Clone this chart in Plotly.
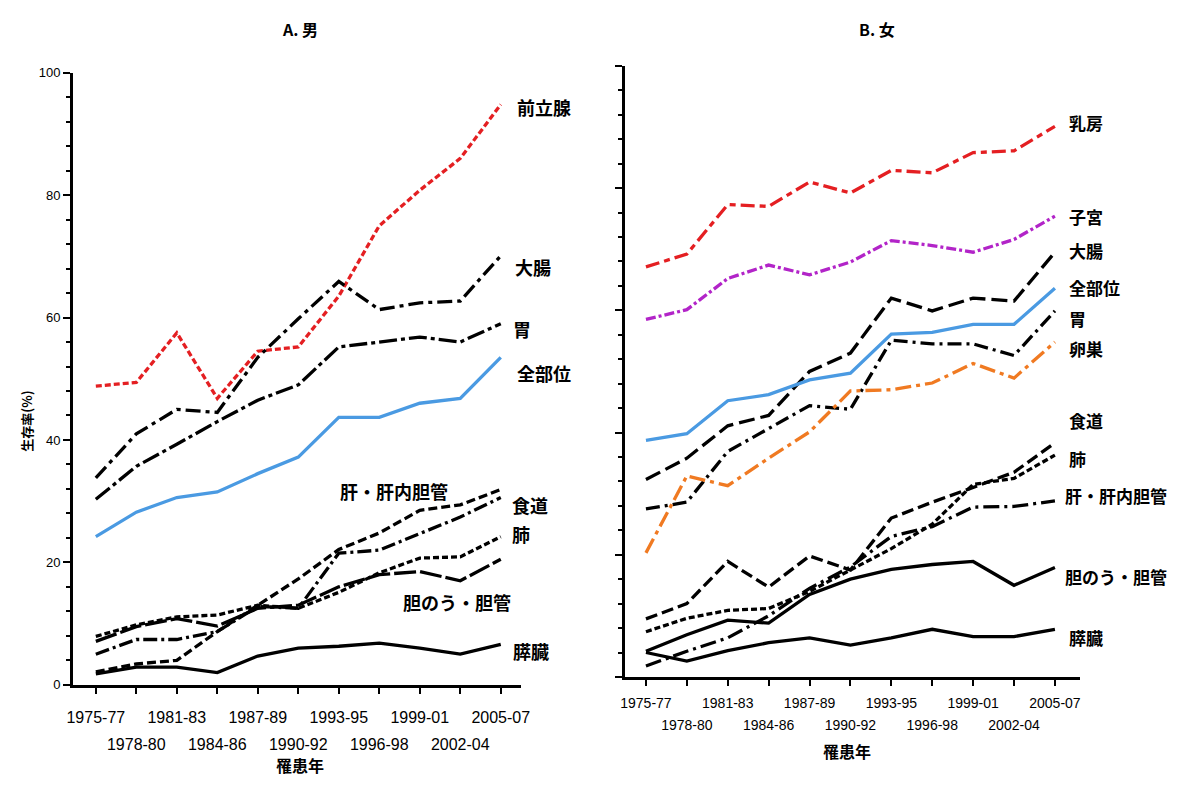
import plotly.graph_objects as go

# ---------------- data ----------------
cats = ["1975-77", "1978-80", "1981-83", "1984-86", "1987-89", "1990-92",
        "1993-95", "1996-98", "1999-01", "2002-04", "2005-07"]

# A. 男 (male)
m_prostate = [48.8, 49.4, 57.5, 46.8, 54.5, 55.2, 63.5, 75.0, 80.8, 86.0, 94.8]
m_colon    = [33.8, 41.0, 45.0, 44.5, 53.5, 59.8, 65.9, 61.3, 62.4, 62.7, 70.1]
m_stomach  = [30.3, 35.7, 39.3, 43.0, 46.5, 49.0, 55.2, 56.0, 56.8, 56.0, 59.0]
m_all      = [24.2, 28.2, 30.6, 31.5, 34.5, 37.2, 43.7, 43.7, 46.0, 46.8, 53.5]
m_liver    = [2.1, 3.4, 4.0, 8.7, 13.0, 17.3, 22.1, 24.8, 28.5, 29.4, 31.9]
m_esoph    = [5.0, 7.4, 7.4, 8.7, 12.8, 12.5, 21.5, 22.0, 24.7, 27.4, 30.6]
m_lung     = [7.9, 9.8, 11.1, 11.4, 13.0, 12.5, 15.1, 18.3, 20.7, 20.9, 24.2]
m_gall     = [7.1, 9.5, 10.8, 9.6, 12.5, 13.0, 16.0, 18.0, 18.5, 17.0, 20.5]
m_panc     = [1.8, 2.9, 2.9, 2.0, 4.7, 6.0, 6.3, 6.8, 6.0, 5.0, 6.6]

# B. 女 (female)
f_breast   = [67.1, 69.2, 77.3, 77.0, 81.0, 79.2, 82.9, 82.5, 85.8, 86.1, 90.1]
f_uterus   = [58.5, 60.1, 65.2, 67.4, 65.8, 67.9, 71.4, 70.6, 69.5, 71.6, 75.4]
f_colon    = [32.3, 35.8, 41.1, 42.8, 50.0, 53.0, 62.0, 59.9, 62.0, 61.5, 69.5]
f_all      = [38.7, 39.8, 45.2, 46.2, 48.6, 49.7, 56.1, 56.4, 57.7, 57.7, 63.6]
f_stomach  = [27.5, 28.6, 36.9, 40.6, 44.4, 43.8, 55.1, 54.5, 54.5, 52.6, 59.9]
f_ovary    = [20.3, 32.9, 31.3, 35.8, 40.1, 46.8, 47.0, 48.1, 51.3, 48.9, 54.8]
f_esoph    = [9.5, 12.0, 18.9, 14.7, 19.8, 17.5, 26.0, 28.6, 31.0, 33.5, 38.3]
f_lung     = [7.4, 9.6, 10.9, 11.2, 14.0, 17.5, 21.0, 25.0, 31.5, 32.5, 36.3]
f_liver    = [1.8, 4.2, 6.4, 10.0, 14.5, 18.0, 23.0, 24.6, 27.8, 27.9, 28.8]
f_gall     = [4.2, 6.9, 9.3, 8.8, 13.5, 16.0, 17.6, 18.4, 18.9, 15.0, 17.9]
f_panc     = [4.0, 2.6, 4.3, 5.6, 6.4, 5.2, 6.4, 7.8, 6.6, 6.6, 7.8]

yticks = [0, 20, 40, 60, 80, 100]

# ---------------- styles ----------------
RED = "#e41f22"
BLUE = "#4a9ae2"
PURPLE = "#b224c8"
ORANGE = "#f07a22"
BLACK = "#000000"

male_series = [
    (m_prostate, RED, "6px,3px"),
    (m_colon, BLACK, "15px,5px,4px,5px"),
    (m_stomach, BLACK, "18px,4px,4px,4px"),
    (m_all, BLUE, "solid"),
    (m_liver, BLACK, "9px,4px"),
    (m_esoph, BLACK, "14px,4px,3px,4px"),
    (m_lung, BLACK, "6px,3px"),
    (m_gall, BLACK, "22px,4px"),
    (m_panc, BLACK, "solid"),
]
female_series = [
    (f_breast, RED, "14px,5px,6px,5px"),
    (f_uterus, PURPLE, "10px,3px,3px,3px"),
    (f_colon, BLACK, "16px,6px"),
    (f_all, BLUE, "solid"),
    (f_stomach, BLACK, "14px,5px,3px,5px"),
    (f_ovary, ORANGE, "16px,5px,4px,5px"),
    (f_esoph, BLACK, "12px,5px"),
    (f_lung, BLACK, "6px,3px"),
    (f_liver, BLACK, "16px,5px,3px,5px"),
    (f_gall, BLACK, "solid"),
    (f_panc, BLACK, "solid"),
]

fig = go.Figure()
for vals, col, dash in male_series:
    fig.add_trace(go.Scatter(x=cats, y=vals, mode="lines", xaxis="x", yaxis="y",
                             line=dict(color=col, width=3.3, dash=dash),
                             showlegend=False, hoverinfo="skip"))
for vals, col, dash in female_series:
    fig.add_trace(go.Scatter(x=cats, y=vals, mode="lines", xaxis="x2", yaxis="y2",
                             line=dict(color=col, width=3.3, dash=dash),
                             showlegend=False, hoverinfo="skip"))

W, H = 1189, 785
def px(x):
    return x / W
def py(y):
    return 1 - y / H

def two_rows(labels, size):
    out = []
    for i, c in enumerate(labels):
        t = "<span style='font-size:%dpx'>%s</span>" % (size, c)
        out.append(t if i % 2 == 0 else "<br>" + t)
    return out

LAT = "Liberation Sans, Arial, sans-serif"
CJK = "Noto Sans CJK JP, sans-serif"

common_x = dict(type="category", tickmode="array", tickvals=cats,
                tickangle=0,
                ticks="outside", ticklen=6, tickwidth=2, tickcolor="black",
                showline=True, linecolor="black", linewidth=3, showgrid=False,
                zeroline=False)
common_y = dict(range=[0, 100], tickmode="array", tickvals=yticks,
                ticks="outside", ticklen=7, tickwidth=2, tickcolor="black",
                minor=dict(dtick=4, ticklen=4, tickwidth=2, tickcolor="black", ticks="outside"),
                showline=True, linecolor="black", linewidth=3, showgrid=False,
                zeroline=False)

fig.update_layout(
    width=W, height=H,
    margin=dict(l=0, r=0, t=0, b=0),
    paper_bgcolor="white", plot_bgcolor="white",
    font=dict(family=LAT, color="black"),
    xaxis=dict(domain=[px(68), px(522)], anchor="y", range=[-0.56, 10.51],
               ticktext=two_rows(cats, 16), ticklabelstandoff=4,
               tickfont=dict(size=21, family=LAT),
               **common_x),
    yaxis=dict(domain=[py(691), py(67)], anchor="x",
               tickfont=dict(size=13, family=LAT),
               **common_y),
    xaxis2=dict(domain=[px(627), px(1088)], anchor="y2", range=[-0.51, 10.62],
                ticktext=two_rows(cats, 14), ticklabelstandoff=2,
                tickfont=dict(size=17, family=LAT),
                **common_x),
    yaxis2=dict(domain=[py(683), py(60)], anchor="x2", showticklabels=False,
                **common_y),
)

annots = [
    ("<b>A. 男</b>", 298, 22, "center", 16, 0),
    ("<b>B. 女</b>", 882, 22, "center", 16, 0),
    ("<b>罹患年</b>", 298, 773, "center", 16, 0),
    ("<b>罹患年</b>", 852, 758, "center", 16, 0),
    ("<b>生存率(%)</b>", 21, 422, "center", 13, -90),
    ("<b>前立腺</b>", 516, 102, "left", 18, 0),
    ("<b>大腸</b>", 513, 265, "left", 18, 0),
    ("<b>胃</b>", 511, 328, "left", 18, 0),
    ("<b>全部位</b>", 516, 373, "left", 18, 0),
    ("<b>肝・肝内胆管</b>", 336, 493, "left", 18, 0),
    ("<b>食道</b>", 510, 508, "left", 18, 0),
    ("<b>肺</b>", 510, 537, "left", 18, 0),
    ("<b>胆のう・胆管</b>", 400, 607, "left", 18, 0),
    ("<b>膵臓</b>", 511, 657, "left", 18, 0),
    ("<b>乳房</b>", 1075, 118, "left", 17, 0),
    ("<b>子宮</b>", 1075, 214, "left", 17, 0),
    ("<b>大腸</b>", 1075, 248, "left", 17, 0),
    ("<b>全部位</b>", 1075, 286, "left", 17, 0),
    ("<b>胃</b>", 1075, 318, "left", 17, 0),
    ("<b>卵巣</b>", 1075, 348, "left", 17, 0),
    ("<b>食道</b>", 1075, 422, "left", 17, 0),
    ("<b>肺</b>", 1075, 460, "left", 17, 0),
    ("<b>肝・肝内胆管</b>", 1071, 498, "left", 17, 0),
    ("<b>胆のう・胆管</b>", 1071, 581, "left", 17, 0),
    ("<b>膵臓</b>", 1075, 643, "left", 17, 0),
]
for text, x, y, anc, size, ang in annots:
    fig.add_annotation(text=text, x=px(x), y=py(y), xref="paper", yref="paper",
                       xanchor=anc, yanchor="middle", showarrow=False, textangle=ang,
                       font=dict(size=size, family=CJK, color="black"))

fig.write_html("out.html", config={"displayModeBar": False},
               post_script="document.body.style.margin='0px';")
